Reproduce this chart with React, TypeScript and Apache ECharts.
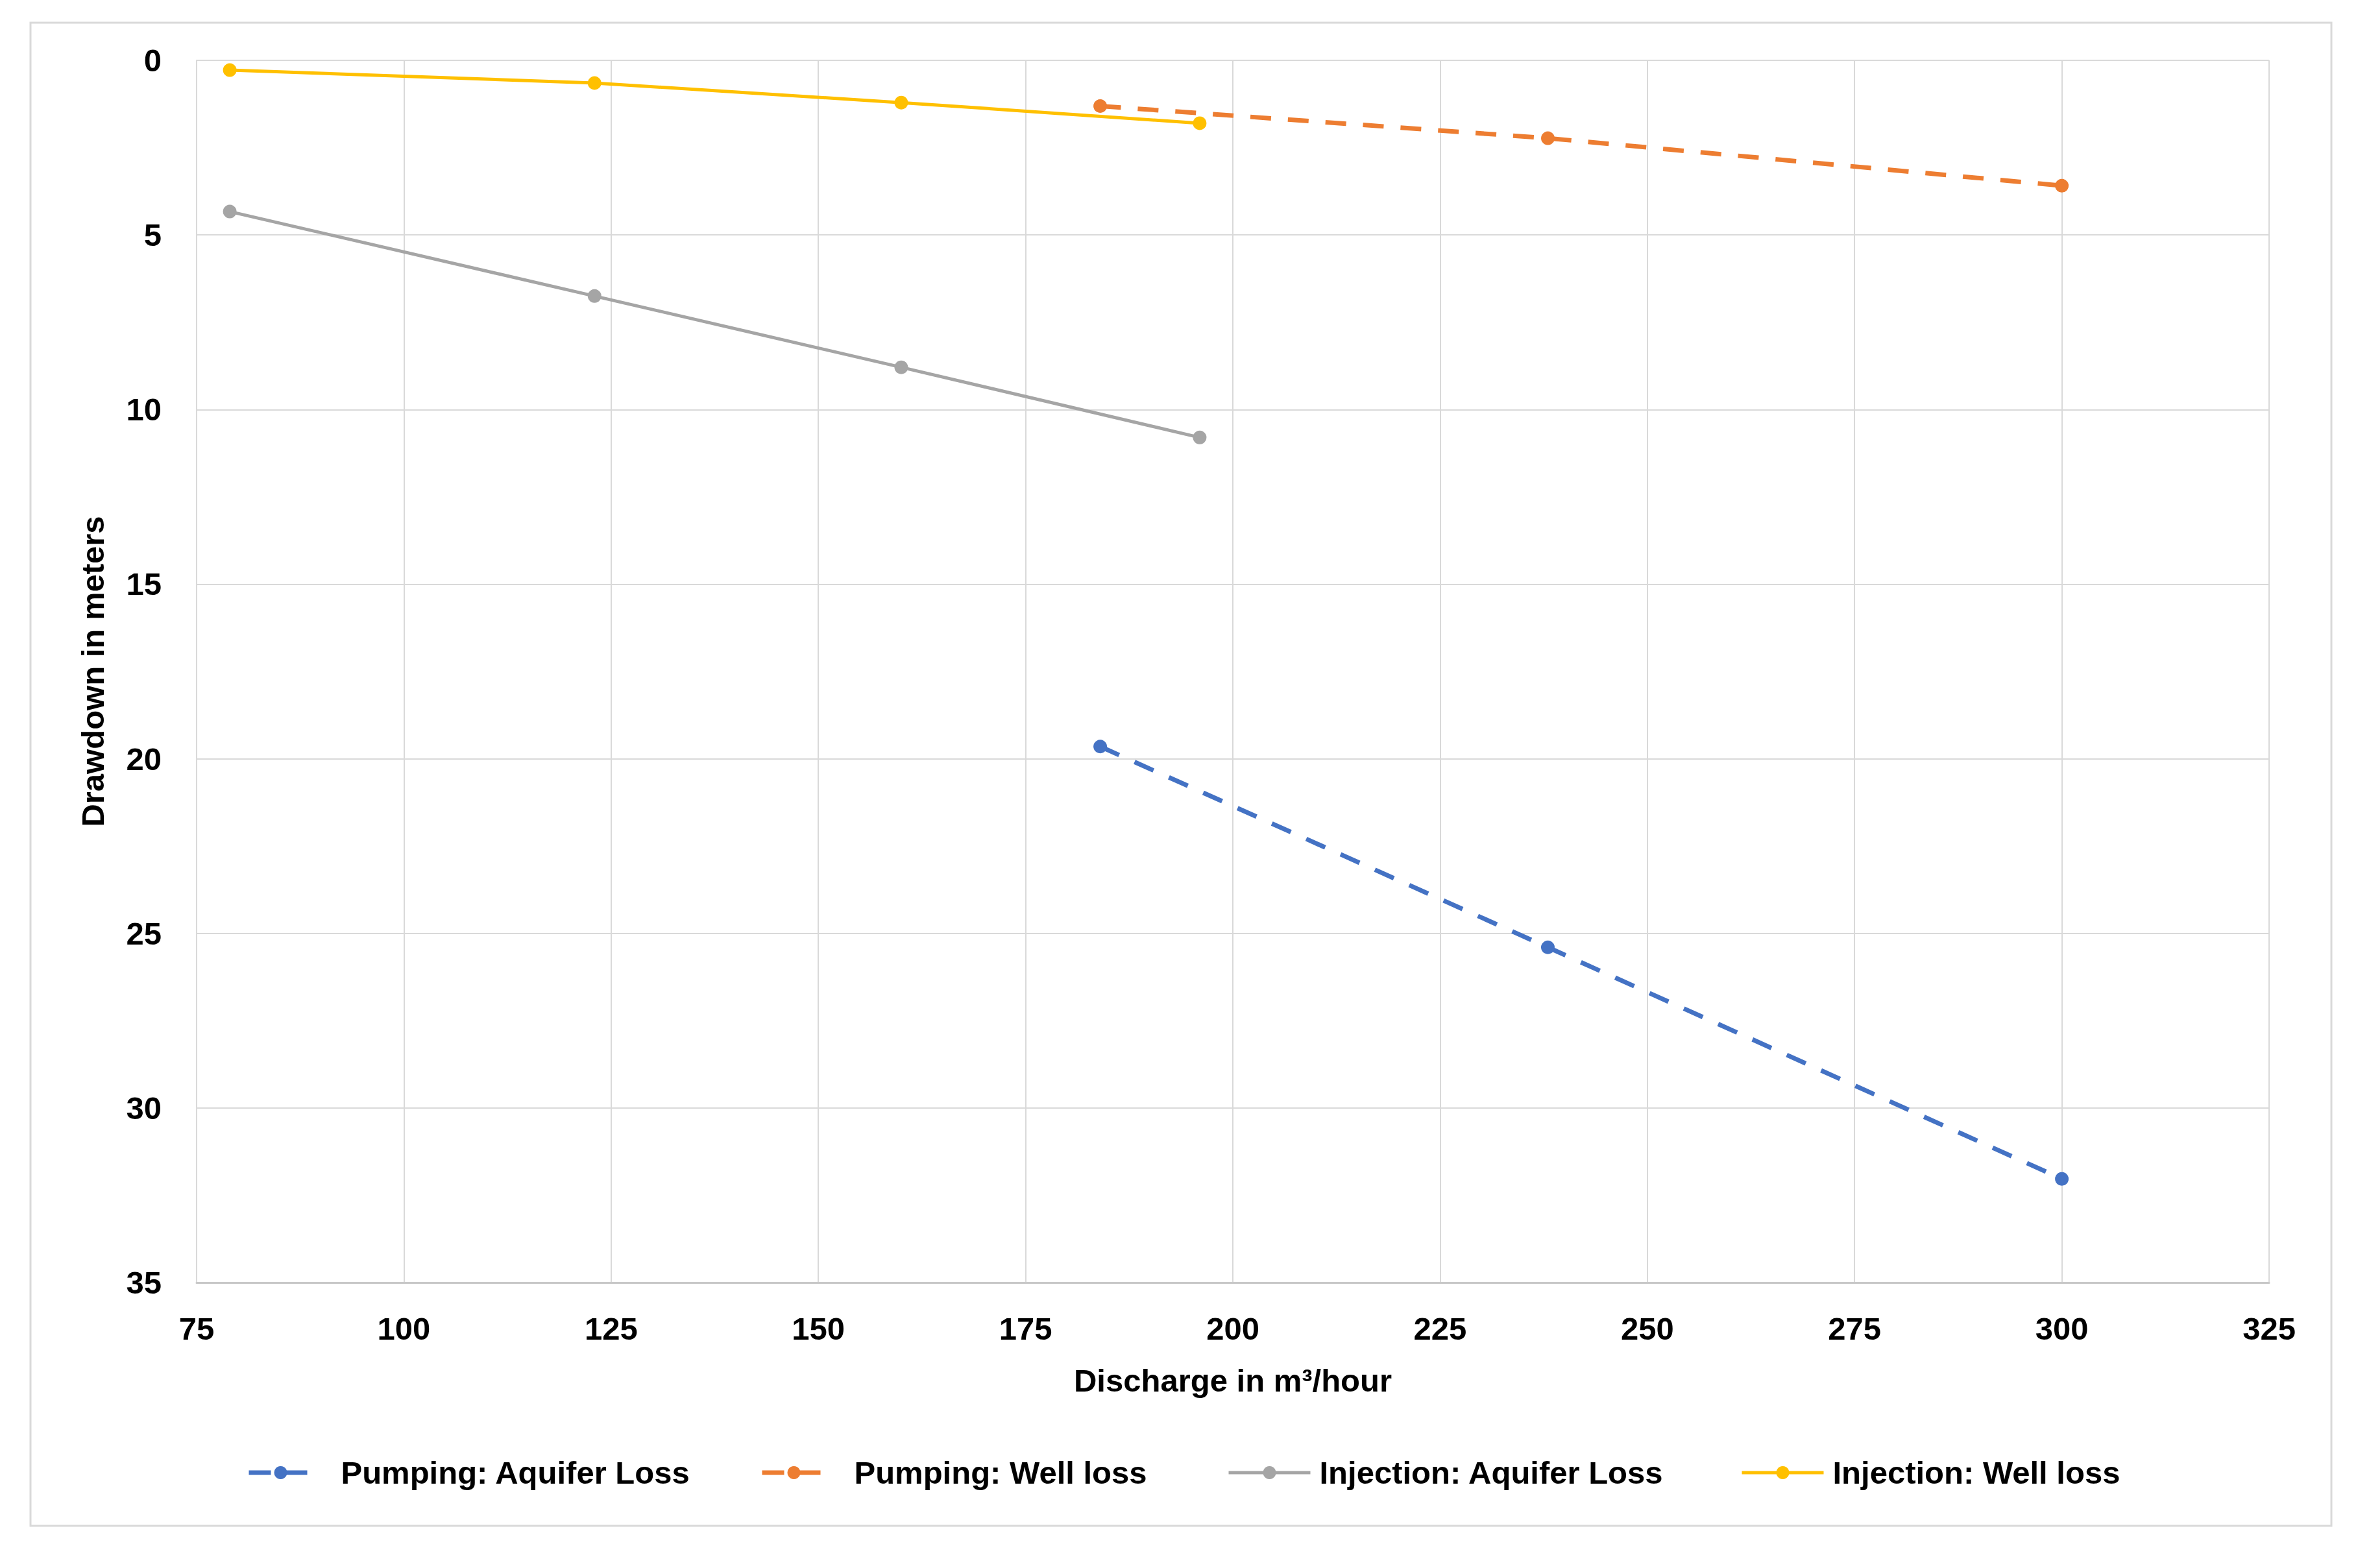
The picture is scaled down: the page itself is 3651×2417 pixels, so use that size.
import React, { useEffect, useRef } from "react";
import * as echarts from "echarts";

const xTicksMin = 75;
const xTicksMax = 325;
const xInterval = 25;
const yMin = 0;
const yMax = 35;
const yInterval = 5;

const pumpingDischarge = [184, 238, 300];
const pumpingAquiferLoss = [19.65, 25.4, 32.03];
const pumpingWellLoss = [1.31, 2.23, 3.59];

const injectionDischarge = [79, 123, 160, 196];
const injectionAquiferLoss = [4.33, 6.75, 8.79, 10.8];
const injectionWellLoss = [0.28, 0.65, 1.21, 1.8];

const seriesNames = [
  "Pumping: Aquifer Loss",
  "Pumping: Well loss",
  "Injection: Aquifer Loss",
  "Injection: Well loss",
];
const seriesColors = ["#4472C4", "#ED7D31", "#A5A5A5", "#FFC000"];

const FONT = "Liberation Sans";
const FS = 49;

function pairs(xs: number[], ys: number[]) {
  return xs.map((x, i) => [x, ys[i]]);
}

export default function App() {
  const ref = useRef<HTMLDivElement>(null);
  useEffect(() => {
    if (!ref.current) return;
    const chart = echarts.init(ref.current, undefined, { renderer: "svg" });
    const dashed = [32, 26];
    const seriesData = [
      pairs(pumpingDischarge, pumpingAquiferLoss),
      pairs(pumpingDischarge, pumpingWellLoss),
      pairs(injectionDischarge, injectionAquiferLoss),
      pairs(injectionDischarge, injectionWellLoss),
    ];
    const isDashed = [true, true, false, false];
    const legendLeft = [380, 1171, 1891, 2682];
    const legends = seriesNames.map((name, i) => ({
      data: [name],
      left: legendLeft[i],
      top: 2238,
      padding: 0,
      itemWidth: isDashed[i] ? 98 : 126,
      itemHeight: 25,
      selectedMode: false,
      lineStyle: {
        width: isDashed[i] ? 7 : 5,
        type: isDashed[i] ? [34, 22] : "solid",
        color: seriesColors[i],
      },
      itemStyle: { color: seriesColors[i] },
      textStyle: {
        fontFamily: FONT,
        fontWeight: "bold",
        fontSize: FS,
        color: "#000",
        lineHeight: 64,
        padding: [0, 0, 0, isDashed[i] ? 39 : 9],
      },
    }));
    chart.setOption({
      animation: false,
      backgroundColor: "#fff",
      graphic: [
        {
          type: "rect",
          shape: { x: 47, y: 35, width: 3546, height: 2317 },
          style: { fill: "none", stroke: "#d9d9d9", lineWidth: 3 },
          silent: true,
        },
      ],
      legend: legends,
      grid: { left: 303, right: 154, top: 93, bottom: 440, containLabel: false },
      xAxis: {
        type: "value",
        min: xTicksMin,
        max: xTicksMax,
        interval: xInterval,
        name: "Discharge in m³/hour",
        nameLocation: "middle",
        nameGap: 126,
        nameTextStyle: { fontFamily: FONT, fontWeight: "bold", fontSize: FS, color: "#000" },
        axisLine: { show: true, onZero: false, lineStyle: { color: "#c8c8c8", width: 3 } },
        axisTick: { show: false },
        axisLabel: { fontFamily: FONT, fontWeight: "bold", fontSize: FS, color: "#000", margin: 46 },
        splitLine: { show: true, lineStyle: { color: "#d9d9d9", width: 2 } },
      },
      yAxis: {
        type: "value",
        inverse: true,
        min: yMin,
        max: yMax,
        interval: yInterval,
        name: "Drawdown in meters",
        nameLocation: "middle",
        nameGap: 136,
        nameTextStyle: { fontFamily: FONT, fontWeight: "bold", fontSize: FS, color: "#000" },
        axisLine: { show: true, onZero: false, lineStyle: { color: "#d9d9d9", width: 2 } },
        axisTick: { show: false },
        axisLabel: { fontFamily: FONT, fontWeight: "bold", fontSize: FS, color: "#000", margin: 54 },
        splitLine: { show: true, lineStyle: { color: "#d9d9d9", width: 2 } },
      },
      series: seriesNames.map((name, i) => ({
        name,
        type: "line",
        data: seriesData[i],
        symbol: "circle",
        symbolSize: 21,
        showSymbol: true,
        color: seriesColors[i],
        itemStyle: { color: seriesColors[i] },
        lineStyle: {
          color: seriesColors[i],
          width: isDashed[i] ? 7 : 5,
          type: isDashed[i] ? dashed : "solid",
          cap: "butt",
        },
        z: 2 + i,
      })),
    });
    return () => chart.dispose();
  }, []);
  return (
    <div
      ref={ref}
      style={{ position: "absolute", left: 0, top: 0, width: 3651, height: 2417 }}
    />
  );
}
